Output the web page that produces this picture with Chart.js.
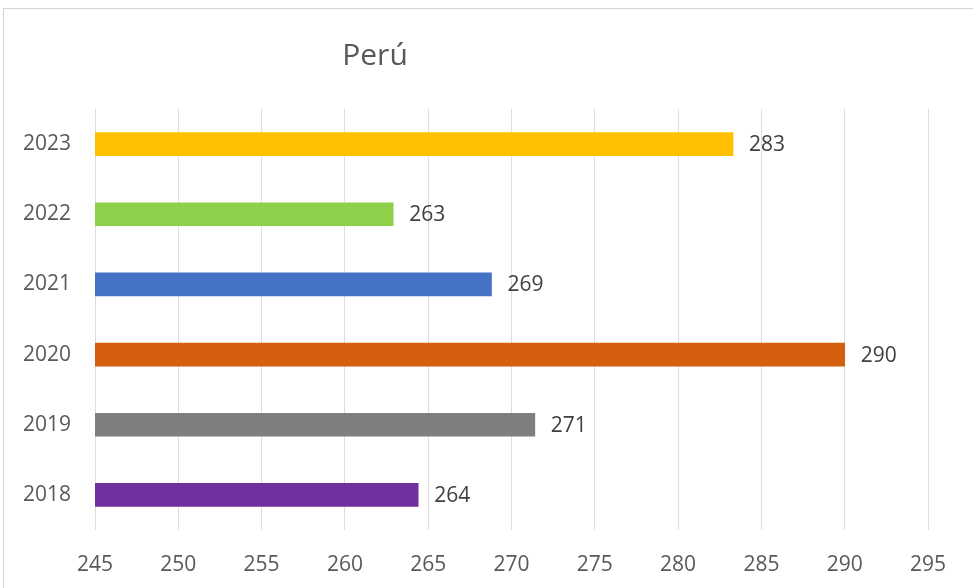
<!DOCTYPE html>
<html>
<head>
<meta charset="utf-8">
<script src="https://cdn.jsdelivr.net/npm/chart.js@4.4.1/dist/chart.umd.min.js"></script>
<style>
  body { margin: 0; background: #fff; overflow: hidden; }
  #wrap { position: relative; width: 973px; height: 588px; }
  #frame { position: absolute; left: 3px; top: 8px; width: 1000px; height: 600px; border: 1px solid #d4d4d4; box-sizing: border-box; }
  canvas { position: absolute; left: 0; top: 0; }
</style>
</head>
<body>
<div id="wrap">
  <div id="frame"></div>
  <canvas id="chart" width="973" height="588"></canvas>
</div>
<script>
const titleText = 'Perú'
const years = ['2023', '2022', '2021', '2020', '2019', '2018']
const values = [283.3, 262.9, 268.8, 290.0, 271.4, 264.4]
const barColors = ['#ffc000', '#8dd14a', '#4472c4', '#d35f0f', '#7f7f7f', '#7030a0']
const axisMin = 245
const axisMax = 295
const axisStep = 5

const fontFamily = '"Open Sans", "Noto Sans", sans-serif'

// title sits left of centre, like the original
const titlePlugin = {
  id: 'leftTitle',
  afterDraw(chart) {
    const ctx = chart.ctx
    ctx.save()
    ctx.font = '30px ' + fontFamily
    ctx.fillStyle = '#595959'
    ctx.textAlign = 'center'
    ctx.textBaseline = 'alphabetic'
    ctx.fillText(titleText, 375, 65)
    ctx.restore()
  }
}

// value labels just past the end of each bar
const valueLabels = {
  id: 'valueLabels',
  afterDatasetsDraw(chart) {
    const ctx = chart.ctx
    const meta = chart.getDatasetMeta(0)
    ctx.save()
    ctx.font = '21px ' + fontFamily
    ctx.fillStyle = '#404040'
    ctx.textAlign = 'left'
    ctx.textBaseline = 'middle'
    meta.data.forEach((bar, i) => {
      ctx.fillText(Math.round(values[i]), bar.x + 16, bar.y + 1)
    })
    ctx.restore()
  }
}

new Chart(document.getElementById('chart'), {
  type: 'bar',
  data: {
    labels: years,
    datasets: [{
      data: values,
      backgroundColor: barColors,
      borderWidth: 0,
      barThickness: 23
    }]
  },
  options: {
    indexAxis: 'y',
    responsive: false,
    animation: false,
    devicePixelRatio: 1,
    layout: { padding: { top: 109, right: 45, left: 0, bottom: 0 } },
    plugins: {
      legend: { display: false },
      title: { display: false },
      tooltip: { enabled: false }
    },
    scales: {
      x: {
        min: axisMin,
        max: axisMax,
        ticks: {
          stepSize: axisStep,
          padding: 22,
          color: '#595959',
          font: { family: fontFamily, size: 21 }
        },
        grid: { color: '#dedede', lineWidth: 1, drawTicks: false },
        border: { display: false },
        afterFit(scale) { scale.height = 58 }
      },
      y: {
        ticks: {
          padding: 24,
          color: '#595959',
          font: { family: fontFamily, size: 21 }
        },
        grid: { display: false, drawTicks: false },
        border: { display: false },
        afterFit(scale) { scale.width = 95 }
      }
    }
  },
  plugins: [titlePlugin, valueLabels]
})
</script>
</body>
</html>
